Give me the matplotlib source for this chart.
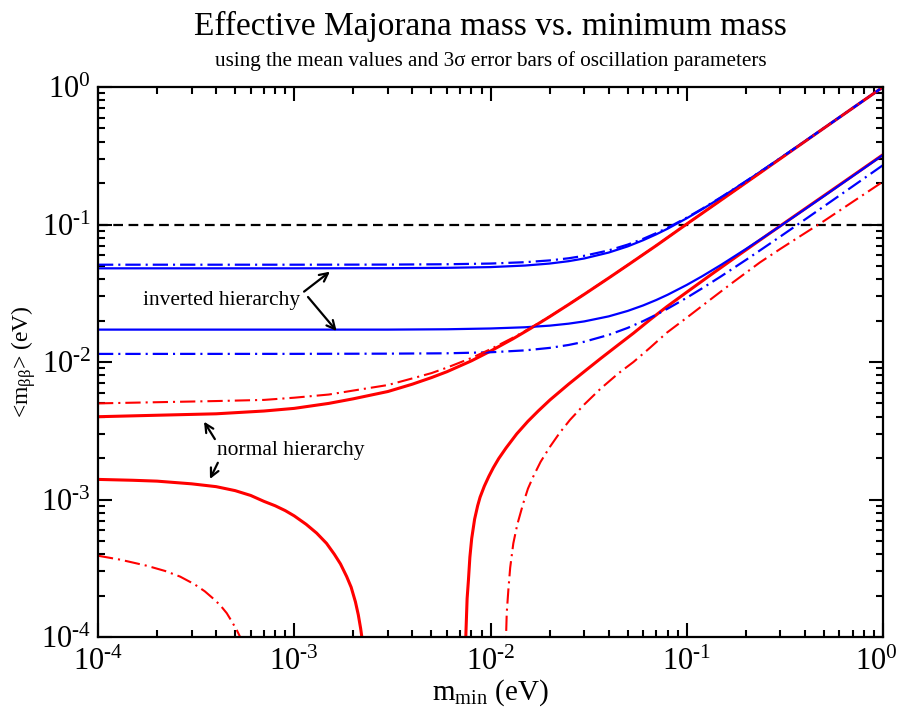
import matplotlib
matplotlib.use('Agg')
import numpy as np
import matplotlib.pyplot as plt
from matplotlib.ticker import LogLocator, NullFormatter, FuncFormatter
from matplotlib.transforms import ScaledTranslation

plt.rcParams['font.family'] = ['Liberation Serif', 'DejaVu Serif']
plt.rcParams['mathtext.fontset'] = 'custom'
plt.rcParams['mathtext.rm'] = 'Liberation Serif'
plt.rcParams['mathtext.it'] = 'Liberation Serif:italic'
plt.rcParams['axes.unicode_minus'] = False
plt.rcParams['lines.scale_dashes'] = False

# inverted hierarchy: upper and lower edge of <m_bb>, mean values and 3 sigma
ih_x = [1e-4, 1e-3, 3e-3, 6e-3, 1e-2, 1.5e-2, 2e-2, 2.5e-2, 3e-2, 4e-2, 5e-2, 6e-2,
        7e-2, 8e-2, 0.1, 0.12, 0.15, 0.2, 0.25, 0.3, 0.4, 0.5, 0.7, 1.0]
ih_up = [0.048, 0.048, 0.0481, 0.0484, 0.049, 0.0503, 0.052, 0.0541, 0.0566, 0.0625, 0.0693, 0.0769,
         0.0849, 0.0933, 0.111, 0.1292, 0.1575, 0.2057, 0.2546, 0.3038, 0.4029, 0.5023, 0.7016, 1.0]
ih_up_3s = [0.051, 0.051, 0.0511, 0.0514, 0.052, 0.0532, 0.0548, 0.0568, 0.0592, 0.0648, 0.0714, 0.0787,
            0.0866, 0.0948, 0.1122, 0.1303, 0.1584, 0.2064, 0.2551, 0.3043, 0.4032, 0.5026, 0.7019, 1.0]
ih_lo = [0.0172, 0.0172, 0.0172, 0.0173, 0.01753, 0.01789, 0.01838, 0.0190, 0.01973, 0.02147, 0.02352, 0.0258,
         0.02826, 0.03086, 0.03635, 0.04209, 0.0510, 0.06628, 0.08183, 0.09753, 0.1292, 0.1609, 0.2247, 0.3205]
ih_lo_3s = [0.01145, 0.01146, 0.0115, 0.01157, 0.01177, 0.01215, 0.01266, 0.0133, 0.01403, 0.01574, 0.0177, 0.01984,
            0.0221, 0.02445, 0.02933, 0.0344, 0.0421, 0.0552, 0.0685, 0.0818, 0.1086, 0.1355, 0.1893, 0.2702]

# normal hierarchy: upper edge
nh_up_x = [1e-4, 2e-4, 4e-4, 7e-4, 1e-3, 1.5e-3, 2e-3, 3e-3, 4e-3, 5e-3, 6e-3, 8e-3, 1e-2,
           1.3e-2, 1.6e-2, 2e-2, 2.5e-2, 3e-2, 4e-2, 5e-2, 7e-2, 0.1, 0.2, 0.5, 1.0]
nh_up = [0.0040, 0.0041, 0.0042, 0.0044, 0.0046, 0.0050, 0.0054, 0.0061, 0.0069, 0.0077, 0.0085, 0.0102, 0.0120,
         0.01473, 0.01754, 0.02134, 0.02617, 0.03102, 0.04079, 0.05062, 0.07032, 0.1008, 0.2010, 0.5020, 1.0]
nh_up_3s = [0.0050, 0.0051, 0.0052, 0.0053, 0.0055, 0.0058, 0.0062, 0.0068, 0.0076, 0.0083, 0.0091, 0.0107, 0.0124,
            0.0150, 0.0177, 0.0214, 0.0262, 0.0311, 0.0408, 0.0507, 0.0704, 0.1009, 0.2011, 0.5021, 1.0]

# normal hierarchy: lower edge, left of and right of the cancellation gap
nh_lo_a_x = [1e-4, 1.5e-4, 2e-4, 3e-4, 4e-4, 5e-4, 6e-4, 7e-4, 8e-4, 9e-4, 1e-3, 1.15e-3, 1.3e-3,
             1.46e-3, 1.6e-3, 1.72e-3, 1.85e-3, 1.95e-3, 2.05e-3, 2.12e-3, 2.18e-3, 2.21e-3, 2.24e-3]
nh_lo_a = [1.40e-3, 1.38e-3, 1.36e-3, 1.30e-3, 1.24e-3, 1.16e-3, 1.07e-3, 9.7e-4, 9.0e-4, 8.3e-4, 7.6e-4, 6.6e-4, 5.7e-4,
           4.8e-4, 4.0e-4, 3.4e-4, 2.75e-4, 2.3e-4, 1.8e-4, 1.45e-4, 1.15e-4, 1.0e-4, 8e-5]
nh_lo_b_x = [0.00745, 0.0075, 0.0076, 0.00772, 0.00785, 0.00802, 0.0083, 0.0086, 0.00885, 0.0093, 0.0098,
             0.01033, 0.011, 0.012, 0.0136, 0.0155, 0.0175, 0.0201, 0.025, 0.0309, 0.0364, 0.045, 0.0535,
             0.065, 0.079, 0.1, 0.13, 0.17, 0.236, 0.3, 0.4, 0.5, 0.7, 1.0]
nh_lo_b = [8e-5, 1.1e-4, 1.9e-4, 2.6e-4, 3.8e-4, 5.2e-4, 7.2e-4, 9.0e-4, 1.04e-3, 1.25e-3, 1.47e-3,
           1.70e-3, 1.98e-3, 2.37e-3, 3.0e-3, 3.7e-3, 4.4e-3, 5.3e-3, 6.9e-3, 8.8e-3, 0.0106, 0.0134, 0.0162,
           0.0203, 0.0252, 0.0322, 0.0422, 0.0554, 0.0770, 0.0978, 0.1300, 0.1620, 0.2260, 0.3220]

# normal hierarchy: lower edge with 3 sigma parameters
nh_lo3_a_x = [1e-4, 1.3e-4, 1.77e-4, 2.2e-4, 2.62e-4, 3.1e-4, 3.5e-4, 3.87e-4, 4.2e-4, 4.53e-4, 4.8e-4,
              5.1e-4, 5.3e-4, 5.5e-4]
nh_lo3_a = [3.9e-4, 3.65e-4, 3.3e-4, 3.02e-4, 2.75e-4, 2.42e-4, 2.15e-4, 1.9e-4, 1.7e-4, 1.49e-4, 1.3e-4,
            1.12e-4, 1.0e-4, 8.6e-5]
nh_lo3_b_x = [0.0119, 0.0120, 0.0121, 0.01233, 0.0126, 0.01307, 0.0137, 0.01469, 0.01552, 0.01652, 0.018,
              0.0201, 0.0225, 0.0254, 0.03, 0.0364, 0.045, 0.0535, 0.065, 0.079, 0.1, 0.13, 0.17, 0.236,
              0.3, 0.4, 0.5, 0.7, 1.0]
nh_lo3_b = [7e-5, 1.0e-4, 1.5e-4, 2.2e-4, 3.2e-4, 4.8e-4, 6.6e-4, 9.4e-4, 1.2e-3, 1.47e-3, 1.88e-3,
            2.42e-3, 3.05e-3, 3.79e-3, 4.9e-3, 6.4e-3, 8.3e-3, 0.0100, 0.0127, 0.0163, 0.0210, 0.0280, 0.0375, 0.0530,
            0.0665, 0.0865, 0.106, 0.146, 0.205]

bound = 0.1

dashdot = (0, (11, 3.6, 1.5, 3.6))
red = '#ff0000'
blue = '#0000ff'


def decade_label(v, pos):
    e = int(round(np.log10(v)))
    if e < 0:
        return r'$\mathdefault{10^{\text{-}%d}}$' % (-e)
    return r'$\mathdefault{10^{%d}}$' % e


fig = plt.figure(figsize=(9.02, 7.15), dpi=100)
ax = fig.add_axes([98 / 902, 78 / 715, 785 / 902, 550 / 715])

ax.axhline(bound, color='black', lw=1.6, ls=(0, (7, 4)))

ax.plot(nh_up_x, nh_up, color=red, lw=2.2)
ax.plot(nh_lo_a_x, nh_lo_a, color=red, lw=2.2)
ax.plot(nh_lo_b_x, nh_lo_b, color=red, lw=2.2)

ax.plot(ih_x, ih_up, color=blue, lw=1.6)
ax.plot(ih_x, ih_lo, color=blue, lw=1.6)
ax.plot(ih_x, ih_up_3s, color=blue, lw=1.6, ls=dashdot)
ax.plot(ih_x, ih_lo_3s, color=blue, lw=1.6, ls=dashdot)

ax.plot(nh_up_x, nh_up_3s, color=red, lw=1.5, ls=dashdot)
ax.plot(nh_lo3_a_x, nh_lo3_a, color=red, lw=1.5, ls=dashdot)
ax.plot(nh_lo3_b_x, nh_lo3_b, color=red, lw=1.5, ls=dashdot)

ax.set_xscale('log')
ax.set_yscale('log')
ax.set_xlim(1e-4, 1)
ax.set_ylim(1e-4, 1)

for axis in (ax.xaxis, ax.yaxis):
    axis.set_major_locator(LogLocator(base=10, numticks=10))
    axis.set_minor_locator(LogLocator(base=10, subs=range(2, 10), numticks=10))
    axis.set_major_formatter(FuncFormatter(decade_label))
    axis.set_minor_formatter(NullFormatter())
ax.tick_params(which='both', direction='in', top=True, right=True, width=1.5)
ax.tick_params(which='major', length=10, labelsize=22)
ax.tick_params(axis='x', which='major', pad=8)
ax.tick_params(axis='y', which='major', pad=5)
ax.tick_params(which='minor', length=5)
for s in ax.spines.values():
    s.set_linewidth(1.6)

# keep the last x label inside the figure
fig.canvas.draw()
last = ax.xaxis.get_major_ticks()[-1].label1
for t in ax.xaxis.get_major_ticks():
    if abs(t.get_loc() - 1.0) < 1e-9:
        last = t.label1
last.set_transform(last.get_transform() + ScaledTranslation(-5 / 72, 0, fig.dpi_scale_trans))

ax.set_xlabel(r'm$_{\mathrm{min}}$ (eV)', fontsize=21, labelpad=0)
ax.set_ylabel(r'<m$_{\mathrm{\beta\beta}}$> (eV)', fontsize=17, labelpad=2)

arrow = dict(arrowstyle='->', color='black', lw=1.6, shrinkA=0, shrinkB=0,
             mutation_scale=15)

ax.text(4.24e-4, 0.028, 'inverted hierarchy', fontsize=15.5, ha='center', va='center')
ax.annotate('', xy=(1.52e-3, 0.0454), xytext=(1.122e-3, 0.0325), arrowprops=arrow)
ax.annotate('', xy=(1.644e-3, 0.0168), xytext=(1.175e-3, 0.0297), arrowprops=arrow)

ax.text(4.04e-4, 0.00229, 'normal hierarchy', fontsize=15.5, ha='left', va='center')
ax.annotate('', xy=(3.47e-4, 0.00368), xytext=(3.94e-4, 0.00275), arrowprops=arrow)
ax.annotate('', xy=(3.72e-4, 0.00141), xytext=(4.08e-4, 0.00185), arrowprops=arrow)

cx = (98 + 883) / 2 / 902
fig.text(cx, 1 - 35 / 715, 'Effective Majorana mass vs. minimum mass',
         fontsize=24, ha='center', va='baseline')
fig.text(cx, 1 - 66 / 715, u'using the mean values and 3\u03c3 error bars of oscillation parameters',
         fontsize=15.2, ha='center', va='baseline')

fig.savefig('out.png', dpi=100)
